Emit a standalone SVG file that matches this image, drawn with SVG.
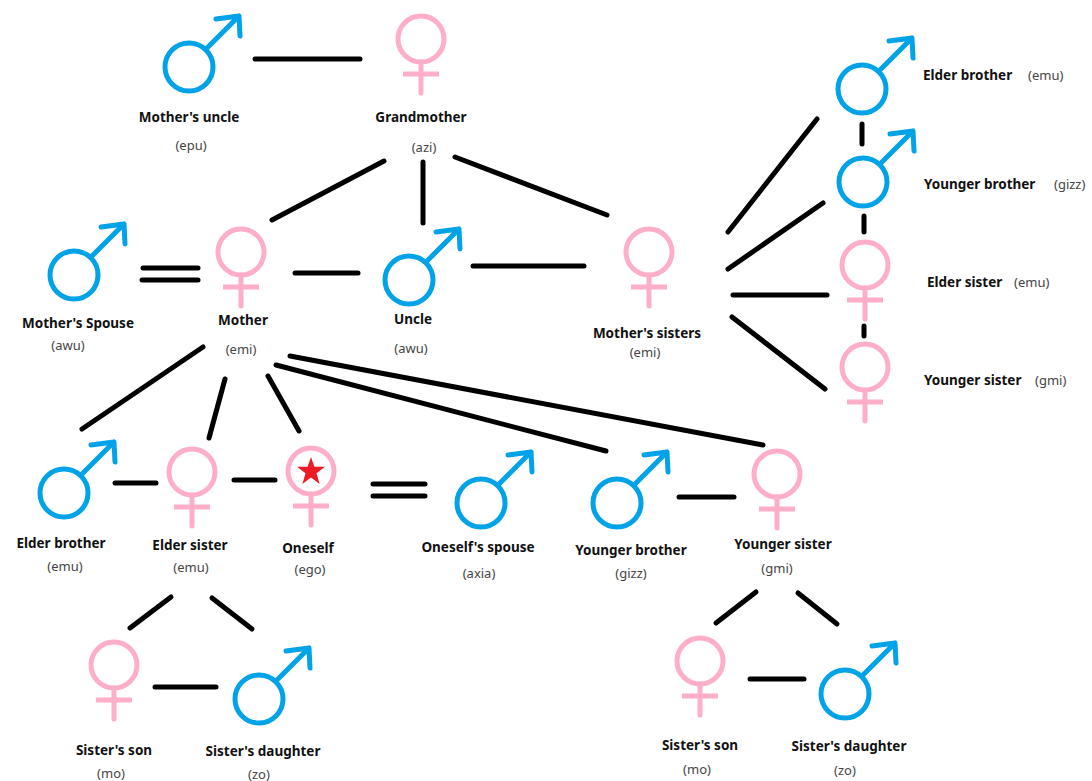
<svg xmlns="http://www.w3.org/2000/svg" width="1092" height="781" viewBox="0 0 1092 781">
<style>
.m{fill:none;stroke:#00a2e8;stroke-width:5;stroke-linecap:round;stroke-linejoin:round}
.f{fill:none;stroke:#ffaec9;stroke-width:5;stroke-linecap:round}
.c line{stroke:#000;stroke-width:5;stroke-linecap:round}
text{font-family:"Noto Sans","Open Sans",sans-serif;text-anchor:middle}
.b{font-size:13.5px;font-weight:700;fill:#111}
.k{font-size:13px;fill:#444}
.s{text-anchor:start}
</style>
<defs>
<g id="male" class="m"><circle r="24"/><path d="M18-19L50-51M27-48L50-51L51-31"/></g>
<g id="female" class="f"><circle r="23"/><path d="M0 23V54"/><path d="M-18 35H18" stroke-linecap="butt"/></g>
</defs>
<rect width="1092" height="781" fill="#fff"/>
<g id="connectors" class="c">
<line x1="255" y1="59" x2="360" y2="59"/>
<line x1="272" y1="220" x2="384" y2="161"/>
<line x1="423" y1="162" x2="423" y2="223"/>
<line x1="455" y1="157" x2="607" y2="215"/>
<line x1="143" y1="268" x2="198" y2="268"/>
<line x1="142" y1="280" x2="198" y2="280"/>
<line x1="295" y1="273" x2="358" y2="273"/>
<line x1="473" y1="266" x2="584" y2="266"/>
<line x1="203" y1="347" x2="82" y2="429"/>
<line x1="225" y1="379" x2="209" y2="438"/>
<line x1="268" y1="376" x2="299" y2="431"/>
<line x1="276" y1="365" x2="606" y2="451"/>
<line x1="290" y1="356" x2="763" y2="445"/>
<line x1="115" y1="483" x2="156" y2="483"/>
<line x1="234" y1="480" x2="275" y2="480"/>
<line x1="373" y1="484" x2="425" y2="484"/>
<line x1="373" y1="496" x2="425" y2="496"/>
<line x1="679" y1="497" x2="734" y2="497"/>
<line x1="130" y1="628" x2="171" y2="597"/>
<line x1="212" y1="598" x2="252" y2="629"/>
<line x1="155" y1="687" x2="216" y2="687"/>
<line x1="716" y1="623" x2="756" y2="592"/>
<line x1="798" y1="593" x2="837" y2="624"/>
<line x1="750" y1="679" x2="804" y2="679"/>
<line x1="728" y1="232" x2="817" y2="119"/>
<line x1="728" y1="269" x2="823" y2="203"/>
<line x1="733" y1="295" x2="827" y2="295"/>
<line x1="732" y1="317" x2="825" y2="389"/>
<line x1="862" y1="124" x2="862" y2="144"/>
<line x1="864" y1="216" x2="864" y2="232"/>
<line x1="864" y1="326" x2="864" y2="336"/>
</g>
<g id="mothers-uncle"><use href="#male" x="189" y="67"/><text class="b" x="189" y="122">Mother's uncle</text><text class="k" x="191" y="150">(epu)</text></g>
<g id="grandmother"><use href="#female" x="421" y="39"/><text class="b" x="421" y="122">Grandmother</text><text class="k" x="424" y="152">(azi)</text></g>
<g id="mothers-spouse"><use href="#male" x="74" y="275"/><text class="b" x="78" y="328">Mother's Spouse</text><text class="k" x="68" y="350">(awu)</text></g>
<g id="mother"><use href="#female" x="241" y="252"/><text class="b" x="243" y="325">Mother</text><text class="k" x="241" y="354">(emi)</text></g>
<g id="uncle"><use href="#male" x="409" y="280"/><text class="b" x="413" y="324">Uncle</text><text class="k" x="411" y="353">(awu)</text></g>
<g id="mothers-sisters"><use href="#female" x="649" y="252"/><text class="b" x="647" y="338">Mother's sisters</text><text class="k" x="645" y="357">(emi)</text></g>
<g id="r-elder-brother"><use href="#male" x="862" y="89"/><text class="b s" x="923" y="80">Elder brother</text><text class="k s" x="1028" y="80">(emu)</text></g>
<g id="r-younger-brother"><use href="#male" x="863" y="182"/><text class="b s" x="924" y="189">Younger brother</text><text class="k s" x="1054" y="189">(gizz)</text></g>
<g id="r-elder-sister"><use href="#female" x="865" y="265"/><text class="b s" x="927" y="287">Elder sister</text><text class="k s" x="1014" y="287">(emu)</text></g>
<g id="r-younger-sister"><use href="#female" x="865" y="367"/><text class="b s" x="924" y="385">Younger sister</text><text class="k s" x="1035" y="385">(gmi)</text></g>
<g id="elder-brother"><use href="#male" x="64" y="493"/><text class="b" x="61" y="548">Elder brother</text><text class="k" x="65" y="571">(emu)</text></g>
<g id="elder-sister"><use href="#female" x="192" y="472"/><text class="b" x="190" y="550">Elder sister</text><text class="k" x="191" y="572">(emu)</text></g>
<g id="oneself"><use href="#female" x="311" y="471"/><polygon points="311,457 314.4,466.8 325,466.8 316.5,473.2 319.6,484 311,477.5 302.4,484 305.5,473.2 297,466.8 307.6,466.8" fill="#ed1c24"/><text class="b" x="308" y="553">Oneself</text><text class="k" x="310" y="574">(ego)</text></g>
<g id="oneselfs-spouse"><use href="#male" x="481" y="503"/><text class="b" x="478" y="552">Oneself's spouse</text><text class="k" x="479" y="578">(axia)</text></g>
<g id="younger-brother"><use href="#male" x="617" y="503"/><text class="b" x="631" y="555">Younger brother</text><text class="k" x="631" y="578">(gizz)</text></g>
<g id="younger-sister"><use href="#female" x="777" y="474"/><text class="b" x="783" y="549">Younger sister</text><text class="k" x="777" y="573">(gmi)</text></g>
<g id="sisters-son-l"><use href="#female" x="114" y="665"/><text class="b" x="114" y="755">Sister's son</text><text class="k" x="111" y="778">(mo)</text></g>
<g id="sisters-daughter-l"><use href="#male" x="259" y="699"/><text class="b" x="263" y="756">Sister's daughter</text><text class="k" x="259" y="779">(zo)</text></g>
<g id="sisters-son-r"><use href="#female" x="700" y="661"/><text class="b" x="700" y="750">Sister's son</text><text class="k" x="697" y="774">(mo)</text></g>
<g id="sisters-daughter-r"><use href="#male" x="845" y="694"/><text class="b" x="849" y="751">Sister's daughter</text><text class="k" x="845" y="775">(zo)</text></g>
</svg>
